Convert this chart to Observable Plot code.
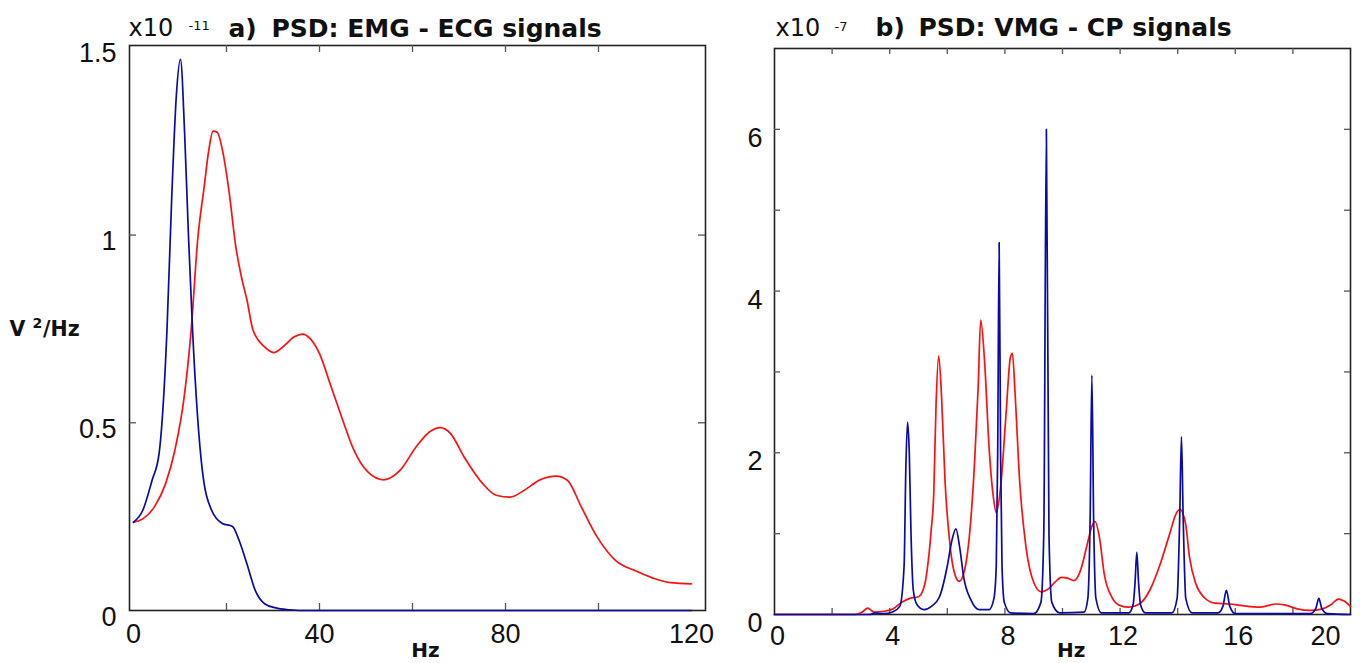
<!DOCTYPE html>
<html>
<head>
<meta charset="utf-8">
<script src="https://cdn.jsdelivr.net/npm/d3@7"></script>
<script src="https://cdn.jsdelivr.net/npm/@observablehq/plot@0.6"></script>
<style>
  body { margin: 0; background: #fff; }
  #wrap { position: relative; width: 1360px; height: 663px; overflow: hidden; }
  #pa, #pb { position: absolute; top: 0; }
  #pa { left: 0; }
  #pb { left: 715px; }
</style>
</head>
<body>
<div id="wrap"><div id="pa"></div><div id="pb"></div></div>
<script>
// ---------- Panel a: PSD EMG - ECG (units x10^-11 V^2/Hz) ----------
const emgFreq = [0,2,4.5,6.9,8.9,10.9,12.4,13.8,15.2,16.2,17.1,18.0,19.4,20.6,22.0,23.2,24.4,25.7,28.2,30.2,32.1,34.6,36.3,38.0,40.0,42.5,45.0,47.4,50.4,53.8,57.3,60.8,63.7,66.0,68.2,71.1,75.1,78.0,81.0,84.0,87.4,90.9,93.3,96.3,99.7,103.7,107.7,111.6,115.5,120];
const emgPsd  = [0.235,0.244,0.276,0.338,0.427,0.569,0.747,0.987,1.129,1.227,1.277,1.274,1.209,1.111,0.969,0.889,0.827,0.747,0.702,0.687,0.702,0.729,0.736,0.724,0.684,0.596,0.507,0.427,0.369,0.348,0.373,0.436,0.476,0.487,0.471,0.409,0.338,0.307,0.302,0.320,0.348,0.358,0.347,0.276,0.196,0.133,0.107,0.087,0.074,0.071];
const ecgFreq = [0,2.0,4.0,5.5,7.2,8.2,9.2,10.1,11.0,11.8,12.7,14.8,16.8,19.1,21.3,22.7,24.4,26.2,28.2,30.6,33.5,36,120];
const ecgPsd  = [0.235,0.267,0.347,0.418,0.747,1.093,1.369,1.468,1.27,1.005,0.747,0.373,0.267,0.232,0.224,0.187,0.124,0.053,0.018,0.007,0.002,0,0];

// ---------- Panel b: PSD VMG - CP (units x10^-7) ----------
const vmgFreq = [0,2.8,3.05,3.24,3.46,3.82,4.12,4.41,4.7,5.0,5.2,5.3,5.44,5.53,5.61,5.70,5.80,5.92,6.1,6.3,6.42,6.6,6.8,6.95,7.07,7.16,7.3,7.45,7.6,7.7,7.85,8.04,8.19,8.26,8.36,8.51,8.73,9.02,9.26,9.52,9.74,9.96,10.17,10.40,10.62,10.84,11.02,11.13,11.28,11.45,11.72,12.01,12.30,12.67,13.03,13.4,13.69,13.98,14.08,14.27,14.41,14.63,14.92,15.29,15.8,16.24,16.83,17.42,17.71,18.15,18.59,19.03,19.32,19.58,19.76,20];
const vmgPsd  = [0,0,0.03,0.08,0.03,0.04,0.07,0.15,0.2,0.22,0.35,0.55,1.04,1.5,2.6,3.2,2.7,1.66,0.84,0.46,0.41,0.55,1.1,1.9,2.8,3.64,3.1,2.07,1.45,1.26,1.57,2.48,3.18,3.23,2.69,1.66,0.84,0.38,0.28,0.32,0.40,0.46,0.45,0.42,0.54,0.84,1.09,1.15,0.96,0.50,0.21,0.11,0.09,0.13,0.30,0.63,0.96,1.27,1.30,1.13,0.71,0.38,0.21,0.14,0.13,0.11,0.09,0.13,0.12,0.07,0.05,0.07,0.12,0.19,0.17,0.10];
const cpFreq = [0,3.3,3.5,3.8,4.1,4.35,4.5,4.56,4.62,4.68,4.74,4.82,4.95,5.2,5.45,5.73,6.0,6.15,6.3,6.43,6.57,6.82,7.1,7.45,7.62,7.7,7.75,7.8,7.85,7.9,7.98,8.2,9.0,9.25,9.35,9.44,9.53,9.63,9.9,10.75,10.88,10.96,11.02,11.08,11.16,11.35,12.3,12.45,12.52,12.58,12.64,12.71,12.88,13.8,13.98,14.07,14.13,14.19,14.28,14.5,15.4,15.57,15.69,15.81,16.0,18.6,18.8,18.9,19.0,19.2,20];
const cpPsd  = [0,0,0.02,0.01,0.03,0.1,0.6,1.8,2.38,2.0,1.0,0.3,0.12,0.06,0.1,0.22,0.6,0.9,1.06,0.83,0.46,0.18,0.06,0.06,0.2,0.6,2.0,4.6,2.0,0.6,0.15,0.02,0.01,0.15,1.0,6.0,1.0,0.15,0.02,0.03,0.2,1.2,2.96,1.2,0.2,0.02,0.02,0.12,0.4,0.77,0.4,0.12,0.02,0.02,0.2,1.2,2.2,1.2,0.2,0.02,0.02,0.1,0.3,0.1,0.01,0.01,0.08,0.2,0.08,0.01,0];

// ---------- Ticks and labels ----------
const aXLabels = [0, 40, 80, 120];
const aXTicks  = [20, 40, 60, 80, 100];
const aYLabels = [0, 0.5, 1, 1.5];
const aYTicks  = [0.5, 1];
const bXLabels = [0, 4, 8, 12, 16];
const bXLastLabel = [20];
const bXTicks  = [2, 4, 6, 8, 10, 12, 14, 16, 18];
const bYLabels = [0, 2, 4, 6];
const bYTicks  = [1, 2, 3, 4, 5, 6];

const titleA = {exp: "x10", pow: "-11", tag: "a)", text: "PSD: EMG - ECG signals"};
const titleB = {exp: "x10", pow: "-7", tag: "b)", text: "PSD: VMG - CP signals"};
const yLabel = {base: "V", pow: "2", unit: "/Hz"};
const xLabel = "Hz";

const rows = (f, p) => f.map((x, i) => ({f: x, p: p[i]}));

const RED = "#ff1010";
const BLUE = "#0a0aaa";
const TICKF = "Liberation Sans, Arial, sans-serif";
const TITLEF = "DejaVu Sans, sans-serif";

function ticksMarks(xt, yt, pw, ph, len) {
  return [
    Plot.tickX(xt, {x: d => d, insetTop: ph - len, stroke: "#555", strokeWidth: 1.3}),
    Plot.tickX(xt, {x: d => d, insetBottom: ph - len, stroke: "#555", strokeWidth: 1.3}),
    Plot.tickY(yt, {y: d => d, insetRight: pw - len, stroke: "#555", strokeWidth: 1.3}),
    Plot.tickY(yt, {y: d => d, insetLeft: pw - len, stroke: "#555", strokeWidth: 1.3})
  ];
}

function titleMarks(t, o) {
  return [
    Plot.text([t.exp], {text: d => d, frameAnchor: "top-left", textAnchor: "start", lineAnchor: "bottom",
      dx: o.expDx, dy: o.expDy, fontSize: 24, fontFamily: TITLEF, fill: "#111"}),
    Plot.text([t.pow], {text: d => d, frameAnchor: "top-left", textAnchor: "start", lineAnchor: "bottom",
      dx: o.powDx, dy: o.powDy, fontSize: 13, fontFamily: TITLEF, fill: "#111"}),
    Plot.text([t.tag], {text: d => d, frameAnchor: "top-left", textAnchor: "start", lineAnchor: "bottom",
      dx: o.tagDx, dy: o.tagDy, fontSize: 25, fontWeight: "bold", fontFamily: TITLEF, fill: "#111"}),
    Plot.text([t.text], {text: d => d, frameAnchor: "top-left", textAnchor: "start", lineAnchor: "bottom",
      dx: o.textDx, dy: o.tagDy, fontSize: 25, fontWeight: "bold", fontFamily: TITLEF, fill: "#111"})
  ];
}

// ---------- Panel a ----------
const aW = 715, aH = 663, aML = 129, aMR = 10, aMT = 45, aMB = 53;
const aPW = aW - aML - aMR, aPH = aH - aMT - aMB;
const chartA = Plot.plot({
  width: aW, height: aH,
  marginLeft: aML, marginRight: aMR, marginTop: aMT, marginBottom: aMB,
  style: {background: "white", overflow: "visible"},
  x: {domain: [-0.86, 123.01], axis: null},
  y: {domain: [0, 1.505], axis: null},
  marks: [
    Plot.frame({stroke: "#222", strokeWidth: 1.6}),
    ...ticksMarks(aXTicks, aYTicks, aPW, aPH, 7),
    Plot.line(rows(emgFreq, emgPsd), {x: "f", y: "p", stroke: RED, strokeWidth: 1.7, curve: "monotone-x"}),
    Plot.line(rows(ecgFreq, ecgPsd), {x: "f", y: "p", stroke: BLUE, strokeWidth: 1.7, curve: "monotone-x"}),
    Plot.text(aXLabels, {x: d => d, text: d => String(d), frameAnchor: "bottom", lineAnchor: "bottom",
      dy: 32, fontSize: 27, fontFamily: TICKF, fill: "#111"}),
    Plot.text(aYLabels, {y: d => d, text: d => String(d), frameAnchor: "left", textAnchor: "end", lineAnchor: "bottom",
      dx: -13, dy: 15, fontSize: 27, fontFamily: TICKF, fill: "#111"}),
    Plot.text([xLabel], {text: d => d, frameAnchor: "bottom", lineAnchor: "bottom", dx: 8, dy: 46,
      fontSize: 20, fontWeight: "bold", fontFamily: TITLEF, fill: "#111"}),
    Plot.text([yLabel.base], {text: d => d, frameAnchor: "left", textAnchor: "start", lineAnchor: "bottom",
      dx: -120, dy: 7.5, fontSize: 20.5, fontWeight: "bold", fontFamily: TITLEF, fill: "#111"}),
    Plot.text([yLabel.pow], {text: d => d, frameAnchor: "left", textAnchor: "start", lineAnchor: "bottom",
      dx: -97, dy: 0, fontSize: 14, fontWeight: "bold", fontFamily: TITLEF, fill: "#111"}),
    Plot.text([yLabel.unit], {text: d => d, frameAnchor: "left", textAnchor: "start", lineAnchor: "bottom",
      dx: -86.5, dy: 7.5, fontSize: 20.5, fontWeight: "bold", fontFamily: TITLEF, fill: "#111"}),
    ...titleMarks(titleA, {expDx: -1, expDy: -9.3, powDx: 59, powDy: -15.7, tagDx: 99, tagDy: -9, textDx: 142})
  ]
});
document.getElementById("pa").appendChild(chartA);

// ---------- Panel b ----------
const bW = 645, bH = 663, bML = 59, bMR = 10, bMT = 48, bMB = 49;
const bPW = bW - bML - bMR, bPH = bH - bMT - bMB;
const chartB = Plot.plot({
  width: bW, height: bH,
  marginLeft: bML, marginRight: bMR, marginTop: bMT, marginBottom: bMB,
  style: {background: "white", overflow: "visible"},
  x: {domain: [0, 20], axis: null},
  y: {domain: [0, 7], axis: null},
  marks: [
    Plot.frame({stroke: "#222", strokeWidth: 1.6}),
    ...ticksMarks(bXTicks, bYTicks, bPW, bPH, 6),
    Plot.line(rows(vmgFreq, vmgPsd), {x: "f", y: "p", stroke: RED, strokeWidth: 1.7, curve: "monotone-x"}),
    Plot.line(rows(cpFreq, cpPsd), {x: "f", y: "p", stroke: BLUE, strokeWidth: 1.7, curve: "monotone-x"}),
    Plot.text(bXLabels, {x: d => d, text: d => String(d), frameAnchor: "bottom", lineAnchor: "bottom",
      dx: 3, dy: 30.5, fontSize: 27, fontFamily: TICKF, fill: "#111"}),
    Plot.text(bXLastLabel, {x: d => d, text: d => String(d), frameAnchor: "bottom", lineAnchor: "bottom",
      dx: -25, dy: 30.5, fontSize: 27, fontFamily: TICKF, fill: "#111"}),
    Plot.text(bYLabels, {y: d => d, text: d => String(d), frameAnchor: "left", textAnchor: "end", lineAnchor: "bottom",
      dx: -12, dy: 17.5, fontSize: 27, fontFamily: TICKF, fill: "#111"}),
    Plot.text([xLabel], {text: d => d, frameAnchor: "bottom", lineAnchor: "bottom", dx: 8.6, dy: 42.5,
      fontSize: 20, fontWeight: "bold", fontFamily: TITLEF, fill: "#111"}),
    ...titleMarks(titleB, {expDx: 1, expDy: -13, powDx: 60, powDy: -17.3, tagDx: 101, tagDy: -12.5, textDx: 144})
  ]
});
document.getElementById("pb").appendChild(chartB);
</script>
</body>
</html>
